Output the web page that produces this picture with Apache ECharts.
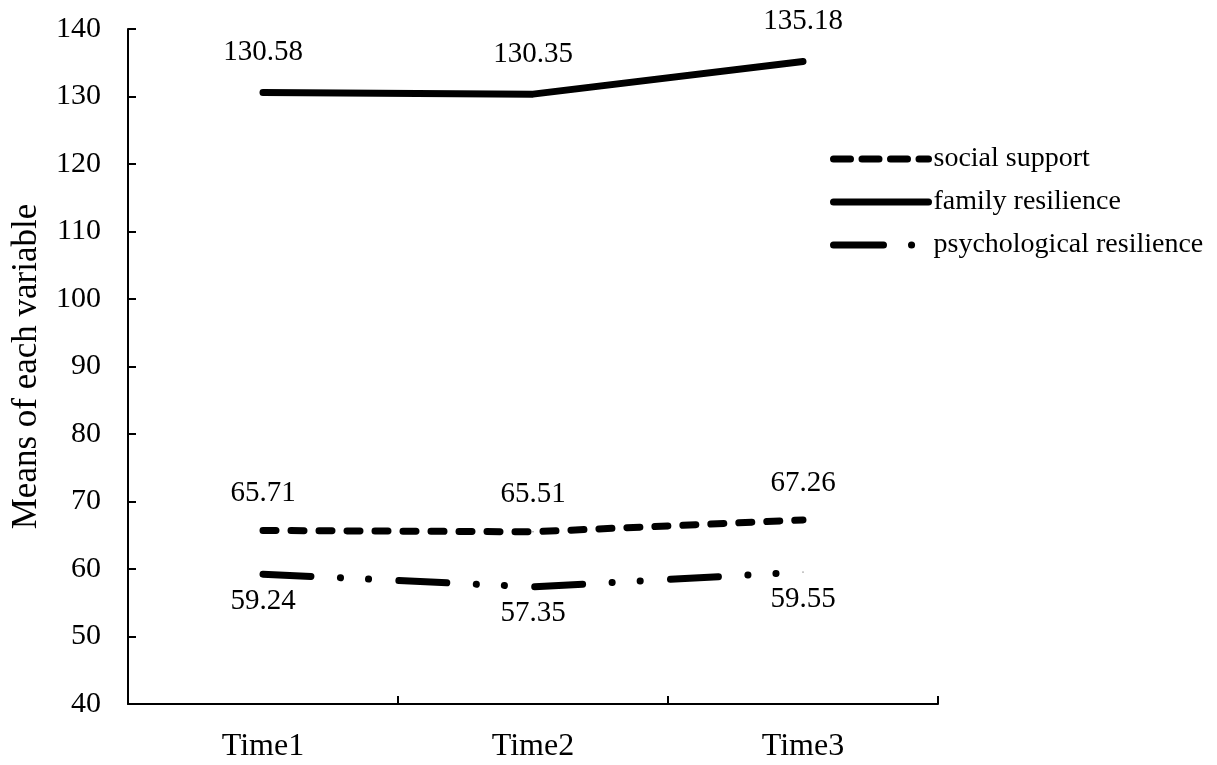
<!DOCTYPE html>
<html>
<head>
<meta charset="utf-8">
<script src="https://cdn.jsdelivr.net/npm/echarts@6/dist/echarts.min.js"></script>
<style>html,body{margin:0;padding:0;background:#fff}#c{width:1217px;height:765px}</style>
</head>
<body>
<div id="c"></div>
<script>
const categories = ['Time1', 'Time2', 'Time3'];
const socialSupport = [65.71, 65.51, 67.26];
const familyResilience = [130.58, 130.35, 135.18];
const psychResilience = [59.24, 57.35, 59.55];
const seriesNames = ['social support', 'family resilience', 'psychological resilience'];

const FONT = '"Liberation Serif", "Times New Roman", serif';
const chart = echarts.init(document.getElementById('c'), null, {renderer: 'canvas'});
const lbl = (pos, dist) => ({show: true, position: pos, distance: dist, color: '#000', fontFamily: FONT, fontSize: 29});
const dot = {color: '#000'};

chart.setOption({
  animation: false,
  backgroundColor: '#fff',
  grid: {left: 128, right: 279, top: 29, bottom: 61, containLabel: false},
  legend: {
    orient: 'vertical', left: 825, top: 140, itemWidth: 95, itemHeight: 8, itemGap: 15,
    itemStyle: {opacity: 0},
    textStyle: {fontFamily: FONT, fontSize: 28, color: '#000', padding: [0, 0, 0, 0]},
    data: [
      {name: seriesNames[0], lineStyle: {type: [17, 11.5], width: 7, cap: 'round', color: '#000'}},
      {name: seriesNames[1], lineStyle: {type: 'solid', width: 7, cap: 'round', color: '#000'}},
      {name: seriesNames[2], lineStyle: {type: [50, 28, 0.1, 60], width: 7, cap: 'round', color: '#000'}}
    ]
  },
  xAxis: {
    type: 'category', data: categories, boundaryGap: true,
    axisLine: {lineStyle: {color: '#000', width: 2}},
    axisTick: {show: true, inside: true, length: 8, lineStyle: {color: '#000', width: 2}},
    axisLabel: {color: '#000', fontFamily: FONT, fontSize: 32, margin: 27},
    splitLine: {show: false}
  },
  yAxis: {
    type: 'value', min: 40, max: 140, interval: 10,
    name: 'Means of each variable', nameLocation: 'middle', nameGap: 84,
    nameTextStyle: {color: '#000', fontFamily: FONT, fontSize: 35},
    axisLine: {show: true, lineStyle: {color: '#000', width: 2}},
    axisTick: {show: true, inside: true, length: 8, lineStyle: {color: '#000', width: 2}},
    axisLabel: {color: '#000', fontFamily: FONT, fontSize: 30, margin: 27},
    splitLine: {show: false}
  },
  series: [
    {name: seriesNames[0], type: 'line', data: socialSupport, symbol: 'circle', symbolSize: 1, showSymbol: true,
     lineStyle: {color: '#000', width: 7, type: [13, 15], cap: 'round'}, itemStyle: dot,
     label: lbl('top', 22)},
    {name: seriesNames[1], type: 'line', data: familyResilience, symbol: 'circle', symbolSize: 1, showSymbol: true,
     lineStyle: {color: '#000', width: 7, type: 'solid', cap: 'round', join: 'round'}, itemStyle: dot,
     label: lbl('top', 25)},
    {name: seriesNames[2], type: 'line', data: psychResilience, symbol: 'circle', symbolSize: 1, showSymbol: true,
     lineStyle: {color: '#000', width: 7, type: [48, 29.5, 0.1, 28, 0.1, 30.3], cap: 'round'}, itemStyle: dot,
     label: lbl('bottom', 12)}
  ]
});
</script>
</body>
</html>
